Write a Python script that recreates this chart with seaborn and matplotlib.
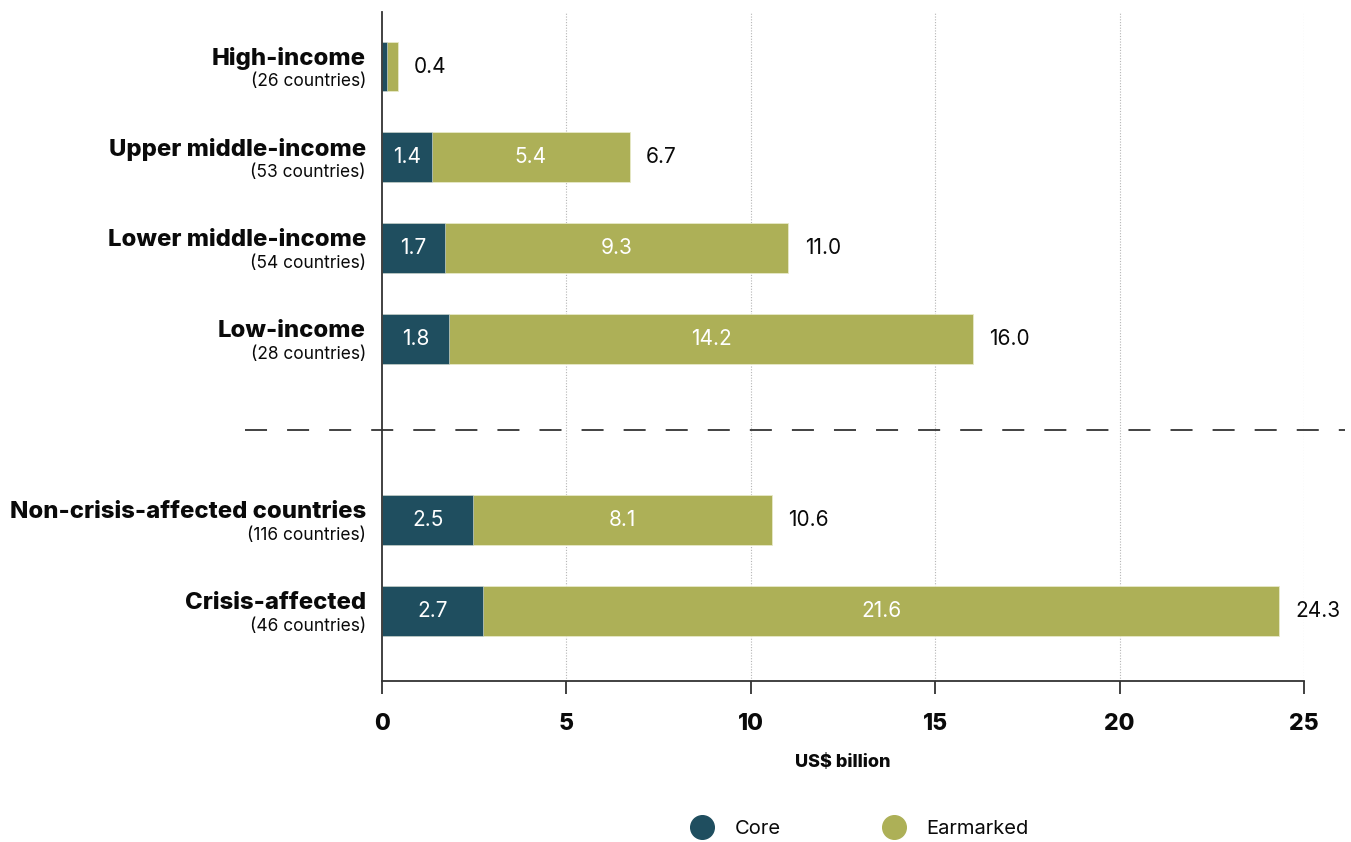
import matplotlib
matplotlib.use("Agg")
import matplotlib.pyplot as plt
from matplotlib.lines import Line2D
import matplotlib.transforms as mtransforms
import seaborn as sns
import pandas as pd

# ---- data ----
categories = ["High-income", "Upper middle-income", "Lower middle-income", "Low-income",
              "Non-crisis-affected countries", "Crisis-affected"]
subtitles = ["(26 countries)", "(53 countries)", "(54 countries)", "(28 countries)",
             "(116 countries)", "(46 countries)"]
core = [0.13, 1.36, 1.71, 1.82, 2.47, 2.74]
earmarked = [0.29, 5.35, 9.30, 14.20, 8.10, 21.58]
core_labels = ["", "1.4", "1.7", "1.8", "2.5", "2.7"]
earmarked_labels = ["", "5.4", "9.3", "14.2", "8.1", "21.6"]
total_labels = ["0.4", "6.7", "11.0", "16.0", "10.6", "24.3"]
x_ticks = [0, 5, 10, 15, 20, 25]

GAP = "__gap__"
order = categories[:4] + [GAP] + categories[4:]

CORE_C = "#1f4e5f"
EAR_C = "#adb057"
FONT = "Inter"
TXT = "#0a0a0a"

sns.set_theme(style="white")
plt.rcParams["font.family"] = [FONT, "DejaVu Sans"]

df = pd.DataFrame({
    "cat": categories,
    "core": core,
    "total": [c + e for c, e in zip(core, earmarked)],
})

fig = plt.figure(figsize=(13.51, 8.42), dpi=100)
ax = fig.add_axes([0.2828, 0.1912, 0.6824, 0.7945])

sns.barplot(data=df, y="cat", x="total", order=order, orient="h", color=EAR_C,
            saturation=1, width=0.55, edgecolor="#e8e9c8", linewidth=0.6, ax=ax, zorder=3)
sns.barplot(data=df, y="cat", x="core", order=order, orient="h", color=CORE_C,
            saturation=1, width=0.55, edgecolor="#dfe6e8", linewidth=0.4, ax=ax, zorder=4)

ax.set_xlim(0, 25)
ax.set_ylim(6.77, -0.6)
ax.set_xticks(x_ticks)
ax.set_xticklabels([str(t) for t in x_ticks], fontsize=16.5, fontweight="heavy", color=TXT)
ax.tick_params(axis="x", bottom=True, length=9, width=1.3, color="#333333", pad=14,
               direction="out")
ax.tick_params(axis="y", length=0, left=False)
ax.set_yticks([])
ax.set_ylabel("")
ax.set_xlabel("US$ billion", fontsize=13, fontweight="heavy", color=TXT, labelpad=14)

for s in ["top", "right"]:
    ax.spines[s].set_visible(False)
for s in ["left", "bottom"]:
    ax.spines[s].set_color("#333333")
    ax.spines[s].set_linewidth(1.3)
    ax.spines[s].set_zorder(5)

for t in x_ticks[1:]:
    ax.axvline(t, color="#b5b5b5", linestyle=(0, (1, 1.5)), linewidth=0.8, zorder=1)

# positions per category
pos = {c: i for i, c in enumerate(order)}
trans = mtransforms.blended_transform_factory(ax.transAxes, ax.transData)
for i, cat in enumerate(categories):
    y = pos[cat]
    tot = core[i] + earmarked[i]
    ax.text(-0.0175, y - 0.09, cat, transform=trans, ha="right", va="center",
            fontsize=17.2, fontweight="heavy", color=TXT)
    ax.text(-0.0175, y + 0.17, subtitles[i], transform=trans, ha="right", va="center",
            fontsize=12.5, color=TXT)
    if core_labels[i]:
        ax.text(core[i] / 2, y, core_labels[i], ha="center", va="center",
                fontsize=15, color="white", zorder=6)
    if earmarked_labels[i]:
        ax.text(core[i] + earmarked[i] / 2, y, earmarked_labels[i], ha="center", va="center",
                fontsize=15, color="white", zorder=6)
    ax.text(tot + 0.45, y, total_labels[i], ha="left", va="center",
            fontsize=15, color=TXT, zorder=6)

# separator
ax.plot([-0.1486, 1.0445], [pos[GAP], pos[GAP]], transform=trans, color="#333333",
        linewidth=1.3, linestyle=(0, (12.2, 11.1)), clip_on=False, zorder=2)

handles = [Line2D([0], [0], marker="o", linestyle="", markersize=17,
                  markerfacecolor=CORE_C, markeredgecolor=CORE_C, label="Core"),
           Line2D([0], [0], marker="o", linestyle="", markersize=17,
                  markerfacecolor=EAR_C, markeredgecolor=EAR_C, label="Earmarked")]
fig.legend(handles=handles, loc="center", bbox_to_anchor=(0.633, 0.0155), ncol=2,
           frameon=False, fontsize=14.5, handletextpad=0.6, columnspacing=4.6,
           labelcolor=TXT)

fig.savefig("out.png", dpi=100)
